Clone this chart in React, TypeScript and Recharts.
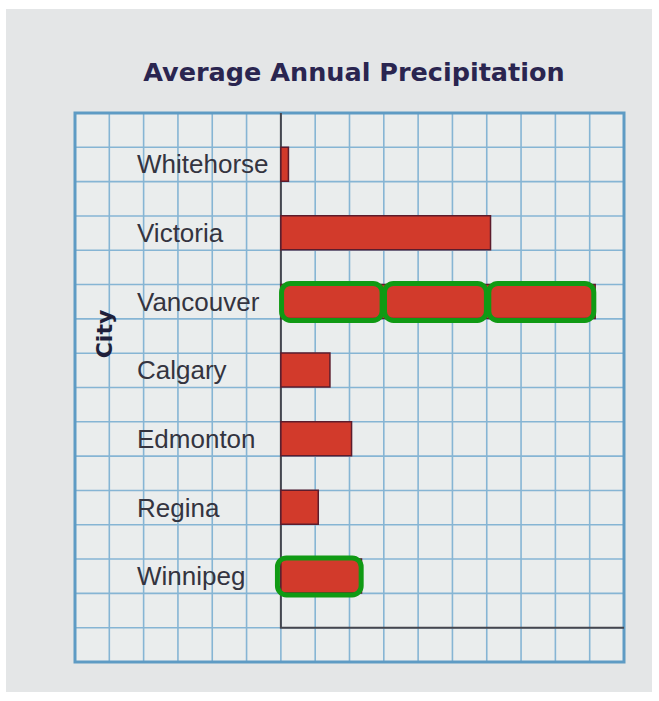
import {
  BarChart,
  Bar,
  XAxis,
  YAxis,
  CartesianGrid,
  ReferenceArea,
  Rectangle,
} from 'recharts'

// average annual precipitation, mm (1 cell = 100 mm, axis starts at 250)
const CITIES = ['Whitehorse', 'Victoria', 'Vancouver', 'Calgary', 'Edmonton', 'Regina', 'Winnipeg']
const PRECIP_MM = [272, 861, 1166, 393, 456, 359, 485]
const AXIS_START = 250
const AXIS_END = 1250

// graph paper: columns every 100 mm, 16 rows
const X_TICKS = [-350, -250, -150, -50, 50, 150, 250, 350, 450, 550, 650, 750, 850, 950, 1050, 1150, 1250]
const GRID_ROWS = 16
const ROW = 549 / GRID_ROWS
const PAD_TOP = ROW / 2
const PAD_BOTTOM = ROW * 1.5

// hand-drawn green circling on the photo
const CIRCLED = [
  { city: 'Vancouver', from: 252, to: 545 },
  { city: 'Vancouver', from: 552, to: 849 },
  { city: 'Vancouver', from: 856, to: 1162 },
  { city: 'Winnipeg', from: 240, to: 484 },
]

const data = CITIES.map((city, i) => ({ city, range: [AXIS_START, PRECIP_MM[i]] }))

const CityTick = (props: any) => (
  <text
    x={props.x + 62}
    y={props.y}
    dominantBaseline="central"
    textAnchor="start"
    fontFamily="Liberation Sans, Arial, sans-serif"
    fontSize={26}
    fill="#34343f"
  >
    {props.payload.value}
  </text>
)

// reference areas span the padded category range; widen back to the whole paper
const BorderShape = ({ x, y, width, height }: any) => (
  <rect
    x={x}
    y={y - PAD_TOP}
    width={width}
    height={height + PAD_TOP + PAD_BOTTOM}
    fill="none"
    stroke="#5e9bc4"
    strokeWidth={3}
  />
)

// y axis from the top of the paper down to the x axis, one row above the bottom
const AxesShape = ({ x, y, width, height }: any) => {
  const base = y + height + PAD_BOTTOM - ROW
  return (
    <path
      d={`M${x},${y - PAD_TOP}L${x},${base}L${x + width},${base}`}
      fill="none"
      stroke="#45464e"
      strokeWidth={2}
    />
  )
}

// bar, plus the green circling drawn on top of it
const BarShape = (props: any) => {
  const { x, y, width, height, payload, fill, stroke, strokeWidth } = props
  const [lo, hi] = payload.range
  const pxPerMm = width / (hi - lo)
  return (
    <g>
      <Rectangle x={x} y={y} width={width} height={height} fill={fill} stroke={stroke} strokeWidth={strokeWidth} />
      {CIRCLED.filter((c) => c.city === payload.city).map((c, i) => (
        <Rectangle
          key={i}
          x={x + (c.from - lo) * pxPerMm}
          y={y - 1}
          width={(c.to - c.from) * pxPerMm}
          height={height + 3}
          radius={9}
          fill="none"
          stroke="#109a14"
          strokeWidth={5}
        />
      ))}
    </g>
  )
}

const paperRows = ({ offset }: any) =>
  Array.from({ length: GRID_ROWS + 1 }, (_, i) => offset.top + (offset.height * i) / GRID_ROWS)

export default function App() {
  return (
    <div style={{ position: 'absolute', left: 0, top: 0, width: 659, height: 701, background: '#fff' }}>
      <div style={{ position: 'absolute', left: 6, top: 9, width: 646, height: 683, background: '#e4e6e7' }} />
      <div style={{ position: 'absolute', left: 0, top: 0 }}>
        <BarChart
          width={659}
          height={701}
          data={data}
          layout="vertical"
          margin={{ top: 113, right: 35, bottom: 39, left: 74 }}
        >
          <CartesianGrid
            stroke="#86b5d4"
            strokeWidth={1.6}
            fill="#eaeded"
            horizontalCoordinatesGenerator={paperRows}
          />
          <XAxis type="number" domain={[X_TICKS[0], AXIS_END]} ticks={X_TICKS} interval={0} hide />
          <YAxis
            type="category"
            dataKey="city"
            width={1}
            axisLine={false}
            tickLine={false}
            tickSize={0}
            tickMargin={0}
            padding={{ top: PAD_TOP, bottom: PAD_BOTTOM }}
            tick={CityTick}
            interval={0}
          />
          <ReferenceArea x1={X_TICKS[0]} x2={AXIS_END} shape={BorderShape} ifOverflow="visible" />
          <ReferenceArea x1={AXIS_START} x2={AXIS_END} shape={AxesShape} ifOverflow="visible" />
          <Bar
            dataKey="range"
            barSize={34}
            fill="#d23a2b"
            stroke="#5c1c2c"
            strokeWidth={1.5}
            shape={BarShape}
            isAnimationActive={false}
          />
        </BarChart>
      </div>
      <div
        style={{
          position: 'absolute',
          left: 0,
          width: 708,
          top: 57,
          textAlign: 'center',
          fontFamily: 'DejaVu Sans, sans-serif',
          fontWeight: 'bold',
          fontSize: 25.5,
          color: '#2a2550',
        }}
      >
        Average Annual Precipitation
      </div>
      <div
        style={{
          position: 'absolute',
          left: 104,
          top: 334,
          transform: 'translate(-50%, -50%) rotate(-90deg)',
          fontFamily: 'DejaVu Sans, sans-serif',
          fontWeight: 'bold',
          fontSize: 22,
          color: '#1f1f3a',
        }}
      >
        City
      </div>
    </div>
  )
}
